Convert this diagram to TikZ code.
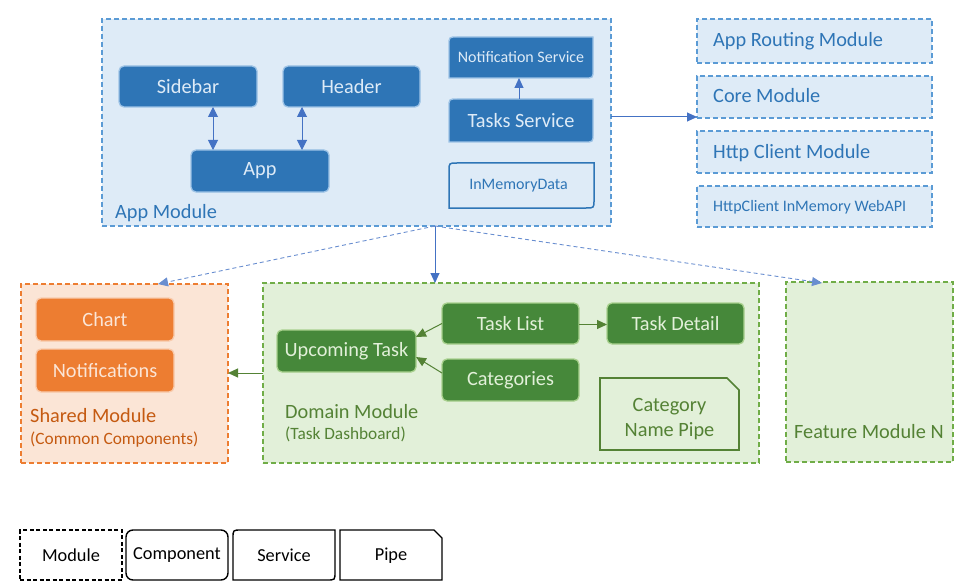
\documentclass[tikz,border=0pt]{standalone}
\usepackage{fontspec}
\setmainfont{Carlito}
\usetikzlibrary{arrows.meta,calc}
\definecolor{modblue}{HTML}{DEEBF7}
\definecolor{modblueline}{HTML}{5B9BD5}
\definecolor{compblue}{HTML}{2E75B6}
\definecolor{compblueline}{HTML}{9DC3E6}
\definecolor{textblue}{HTML}{2E75B6}
\definecolor{arrowblue}{HTML}{4472C4}
\definecolor{modorange}{HTML}{FBE5D6}
\definecolor{modorangeline}{HTML}{ED7D31}
\definecolor{comporange}{HTML}{ED7D31}
\definecolor{comporangeline}{HTML}{F8CBAD}
\definecolor{textorange}{HTML}{C55A11}
\definecolor{modgreen}{HTML}{E2F0D9}
\definecolor{modgreenline}{HTML}{70AD47}
\definecolor{compgreen}{HTML}{46883A}
\definecolor{compgreenline}{HTML}{A9D18E}
\definecolor{textgreen}{HTML}{548235}
\newcommand\bigf{\fontsize{20.3}{24}\selectfont}
\newcommand\midf{\fontsize{17.3}{20}\selectfont}
\newcommand\smallf{\fontsize{16}{19}\selectfont}
\newcommand\legf{\fontsize{18.3}{21}\selectfont}
\newcommand\svcpath[2]{%
  \path[#2] (#1.south west) -- ([yshift=-8pt]#1.north west) .. controls (#1.north west) .. ([xshift=8pt]#1.north west)
    -- (#1.north east) -- ([yshift=8pt]#1.south east) .. controls (#1.south east) .. ([xshift=-8pt]#1.south east) -- cycle;}
\newcommand\pipepath[3]{%
  \path[#2] (#1.south west) -- (#1.north west) -- ([xshift=-#3]#1.north east) -- ([yshift=-#3]#1.north east) -- (#1.south east) -- cycle;}
\begin{document}
\begin{tikzpicture}[x=1pt,y=-1pt,
  box/.style 2 args={rectangle, inner sep=0pt, outer sep=0pt, minimum width=#1, minimum height=#2},
  modbox/.style={line width=1.6pt, dash pattern=on 5pt off 3pt},
  bluemod/.style={modbox, draw=modblueline, fill=modblue},
  orangemod/.style={modbox, draw=modorangeline, fill=modorange},
  greenmod/.style={modbox, draw=modgreenline, fill=modgreen},
  bluecomp/.style={rounded corners=5pt, fill=compblue, draw=compblueline, line width=1.3pt, text=modblue, font=\bigf},
  orangecomp/.style={rounded corners=5pt, fill=comporange, draw=comporangeline, line width=1.3pt, text=modorange, font=\bigf},
  greencomp/.style={rounded corners=5pt, fill=compgreen, draw=compgreenline, line width=1.3pt, text=modgreen, font=\bigf},
  bluearrow/.style={draw=arrowblue, line width=1pt, -{Triangle[length=10pt,width=9pt]}},
  dblarrow/.style={draw=arrowblue, line width=1pt, {Triangle[length=10pt,width=10pt]}-{Triangle[length=10pt,width=10pt]}},
  dasharrow/.style={draw=arrowblue!80, line width=0.9pt, dash pattern=on 4pt off 3pt, -{Triangle[length=10pt,width=9pt]}},
  greenarrow/.style={draw=textgreen, line width=1pt, -{Triangle[length=10pt,width=9pt]}},
  legend/.style={draw=black, line width=1.4pt, font=\legf},
  lbl/.style={anchor=base west, inner sep=0pt}
]
\useasboundingbox (0,0) rectangle (973,588);

% ---------------- App Module ----------------
\node[box={509pt}{207pt}, bluemod] (appm) at (356.5,122.5) {};
\node[lbl, text=textblue, font=\bigf] (appml) at (115,218) {App Module};
\node[box={138pt}{41pt}, bluecomp] (sidebar) at (188,86.5) {Sidebar};
\node[box={137pt}{41pt}, bluecomp] (header) at (351.5,86.5) {Header};
\node[box={138pt}{42pt}, bluecomp] (app) at (260,171) {App};
\node[box={144pt}{41pt}] (ns) at (521,57.5) {};
\svcpath{ns}{fill=compblue, draw=compblueline, line width=1.3pt}
\node[text=modblue, font=\smallf] (nst) at (ns.center) {Notification Service};
\node[box={144pt}{43pt}] (ts) at (521,120.5) {};
\svcpath{ts}{fill=compblue, draw=compblueline, line width=1.3pt}
\node[text=modblue, font=\bigf] (tst) at (ts.center) {Tasks Service};
\node[box={145pt}{45pt}] (imd) at (521.5,185.5) {};
\svcpath{imd}{draw=compblue, line width=1.5pt}
\node[text=textblue, font=\smallf] (imdt) at ([xshift=-3pt]imd.center) {InMemoryData};

\draw[dblarrow] ([xshift=25pt]sidebar.south) -- ([xshift=25pt]sidebar.south |- app.north);
\draw[dblarrow] ([xshift=-49.5pt]header.south) -- ([xshift=-49.5pt]header.south |- app.north);
\draw[bluearrow] ([xshift=-2pt]ts.north) -- ([xshift=-2pt]ns.south);

% ---------------- Right modules ----------------
\node[box={235pt}{44pt}, bluemod] (arm) at (814.5,41) {};
\node[box={235pt}{42pt}, bluemod] (core) at (814.5,97) {};
\node[box={235pt}{42pt}, bluemod] (http) at (814.5,152) {};
\node[box={235pt}{41pt}, bluemod] (himw) at (814.5,206.5) {};
\node[lbl, text=textblue, font=\bigf] (armt) at (713,46.5) {App Routing Module};
\node[lbl, text=textblue, font=\bigf] (coret) at (713,102.5) {Core Module};
\node[lbl, text=textblue, font=\bigf] (httpt) at (713,158) {Http Client Module};
\node[lbl, text=textblue, font=\smallf] (himwt) at (713,211.5) {HttpClient InMemory WebAPI};

\coordinate (c1) at (611,117);
\draw[bluearrow] (c1) -- (c1 -| core.west);

% ---------------- Shared Module ----------------
\node[box={207pt}{179pt}, orangemod] (shared) at (124.5,373.5) {};
\node[box={138pt}{43pt}, orangecomp] (chart) at (105,319.5) {Chart};
\node[box={138pt}{43pt}, orangecomp] (notif) at (105,370.5) {Notifications};
\node[lbl, text=textorange, font=\bigf] (sharedl) at (30,422) {Shared Module};
\node[lbl, text=textorange, font=\midf] (sharedl2) at (30,444) {(Common Components)};

% ---------------- Domain Module ----------------
\node[box={496pt}{180pt}, greenmod] (domain) at (511,373) {};
\node[box={139pt}{42pt}, greencomp] (upc) at (346.5,351) {Upcoming Task};
\node[box={137pt}{41pt}, greencomp] (tlist) at (510.5,323.5) {Task List};
\node[box={137pt}{42pt}, greencomp] (cat) at (510.5,380) {Categories};
\node[box={137pt}{41pt}, greencomp] (tdet) at (675.5,323.5) {Task Detail};
\node[box={139pt}{72pt}] (pipe) at (669.5,414) {};
\pipepath{pipe}{draw=textgreen, line width=1.6pt}{12pt}
\node[text=textgreen, font=\bigf, align=center, inner sep=0pt] (pipet) at ([yshift=-5pt]pipe.center) {Category\\[1pt]Name Pipe};
\node[lbl, text=textgreen, font=\bigf] (domainl) at (285,418.5) {Domain Module};
\node[lbl, text=textgreen, font=\midf] (domainl2) at (285,439) {(Task Dashboard)};

\draw[greenarrow] (tlist.west) -- ([yshift=-7pt]upc.north east);
\draw[greenarrow] ([yshift=7pt]cat.west) -- ([yshift=-6pt]upc.east);
\draw[greenarrow] ([yshift=-1pt]tlist.east) -- ([yshift=-1pt]tdet.west);
\draw[greenarrow] (domain.west) -- (domain.west -| shared.east);

% ---------------- Feature Module N ----------------
\node[box={167pt}{180pt}, greenmod] (feat) at (869.5,372) {};
\node[lbl, text=textgreen, font=\bigf] (featl) at (794,438) {Feature Module N};

% ---------------- App module -> children ----------------
\coordinate (am) at (435,226);
\draw[dasharrow] (am) -- ([xshift=33.5pt]shared.north);
\draw[bluearrow] (am) -- (am |- domain.north);
\draw[dasharrow] (am) -- ([xshift=36pt,yshift=-1pt]feat.north west);

% ---------------- Legend ----------------
\node[box={102pt}{50pt}, legend, dash pattern=on 4pt off 2.5pt] (lmod) at (71,555) {Module};
\node[box={102pt}{50pt}, legend, rounded corners=7pt] (lcomp) at (177,555) {Component};
\node[box={102pt}{50pt}] (lsvc) at (284,555) {};
\svcpath{lsvc}{draw=black, line width=1.4pt}
\node[font=\legf] (lsvct) at (lsvc.center) {Service};
\node[box={102pt}{50pt}] (lpipe) at (391,555) {};
\pipepath{lpipe}{draw=black, line width=1.4pt}{8pt}
\node[font=\legf] (lpipet) at ([yshift=-1pt]lpipe.center) {Pipe};
\end{tikzpicture}
\end{document}
